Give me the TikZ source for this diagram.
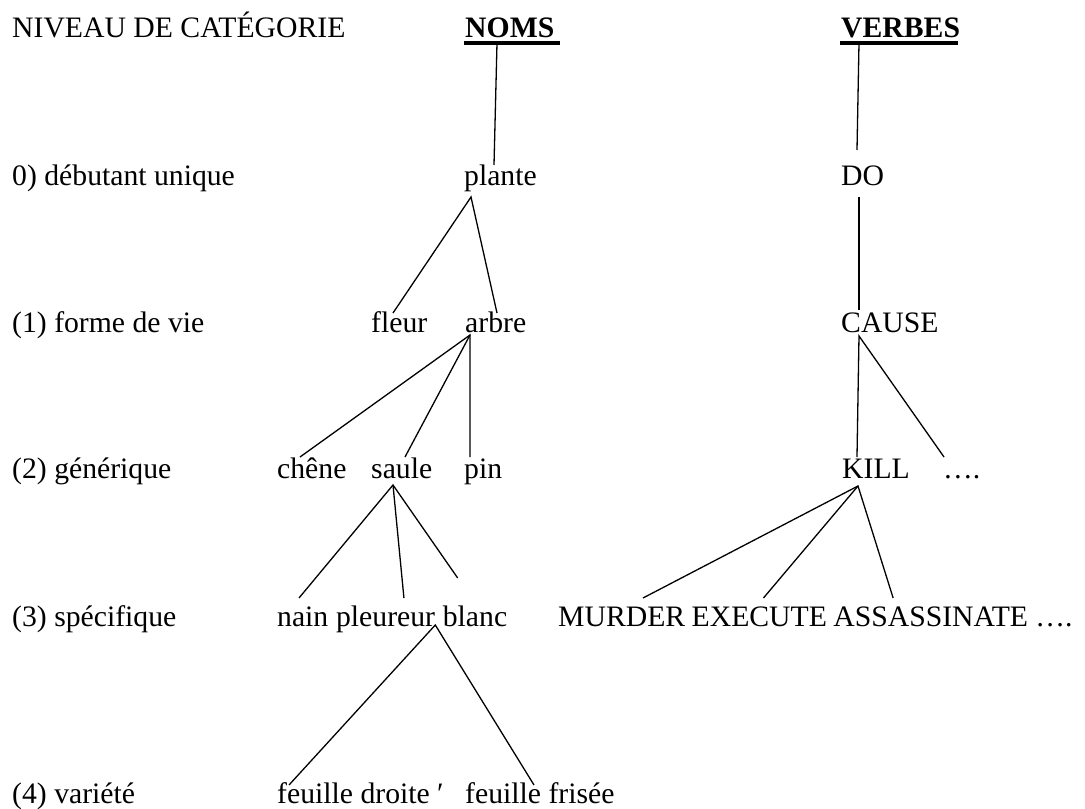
\documentclass[tikz,border=0pt]{standalone}
\usepackage{fontspec}
\setmainfont{Liberation Serif}
\newfontfamily\timesfont{Liberation Serif}
\tikzset{
        lbl/.style={anchor=base west, inner sep=0pt, font=\timesfont\fontsize{29.7}{34}\selectfont},
        head/.style={lbl, font=\timesfont\fontsize{29.7}{34}\selectfont\bfseries},
        branch/.style={line width=1.3pt},
        uline/.style={line width=3.2pt}
          }
\begin{document}
\begin{tikzpicture}[x=1pt, y=-1pt]
            \useasboundingbox (0,0) rectangle (1085,809);
            % levels
            \node[lbl] (niveau) at (12,37) {NIVEAU DE CATÉGORIE};
            \node[lbl] (lev0) at (12,185) {0) débutant unique};
            \node[lbl] (lev1) at (12,332) {(1) forme de vie};
            \node[lbl] (lev2) at (12,478) {(2) générique};
            \node[lbl] (lev3) at (12,626) {(3) spécifique};
            \node[lbl] (lev4) at (12,803) {(4) variété};
            % noms
            \node[head] (noms) at (465,37) {NOMS};
            \node[lbl] (plante) at (464,185) {plante};
            \node[lbl] (fleur) at (371,332) {fleur};
            \node[lbl] (arbre) at (465,332) {arbre};
            \node[lbl] (chene) at (277,478) {chêne};
            \node[lbl] (saule) at (371,478) {saule};
            \node[lbl] (pin) at (464,478) {pin};
            \node[lbl] (nain) at (277,626) {nain};
            \node[lbl] (pleureur) at ([xshift=7.4pt]nain.base east) {pleureur};
            \node[lbl] (blanc) at ([xshift=7.4pt]pleureur.base east) {blanc};
            \node[lbl] (droite) at (277,803) {feuille droite ′};
            \node[lbl] (frisee) at (465,803) {feuille frisée};
            % verbes
            \node[head] (verbes) at (841,37) {VERBES};
            \node[lbl] (do) at (841,185) {DO};
            \node[lbl] (cause) at (841,332) {CAUSE};
            \node[lbl] (kill) at (842,478) {KILL};
            \node[lbl] (etc) at (943,478) {….};
            \node[lbl] (murder) at (558,626) {MURDER};
            \node[lbl] (execute) at ([xshift=6pt]murder.base east) {EXECUTE};
            \node[lbl] (assassinate) at ([xshift=6pt]execute.base east) {ASSASSINATE};
            \node[lbl] (etc2) at ([xshift=7pt]assassinate.base east) {….};
            % underlines
            \draw[uline] ([shift={(-1,6)}]noms.base west) -- ++(96,0);
            \draw[uline] ([shift={(-1,6)}]verbes.base west) -- ++(118,0);
            % branches noms
            \draw[branch] ([shift={(32,6)}]noms.base west) -- ([shift={(30,-20)}]plante.base west);
            \draw[branch] ([shift={(22,-19)}]fleur.base west) -- ([shift={(7,12)}]plante.base west) -- ([shift={(32,-19)}]arbre.base west);
            \draw[branch] ([shift={(23,-21)}]chene.base west) -- ([shift={(5,3)}]arbre.base west) -- ([shift={(6,-21)}]pin.base west);
            \draw[branch] ([shift={(5,3)}]arbre.base west) -- ([shift={(34,-21)}]saule.base west);
            \draw[branch] ([shift={(22,-28)}]nain.base west) -- ([shift={(22,7)}]saule.base west) -- ([shift={(15,-48)}]blanc.base west);
            \draw[branch] ([shift={(22,7)}]saule.base west) -- ([shift={(68,-28)}]pleureur.base west);
            \draw[branch] ([shift={(12,-18)}]droite.base west) -- ([shift={(0,-1)}]pleureur.base east) -- ([shift={(69,-18)}]frisee.base west);
            % branches verbes
            \draw[branch] ([shift={(18,6)}]verbes.base west) -- ([shift={(16,-35)}]do.base west);
            \draw[branch] ([shift={(18,12)}]do.base west) -- ([shift={(18,-22)}]cause.base west);
            \draw[branch] ([shift={(15,-21)}]kill.base west) -- ([shift={(18,4)}]cause.base west) -- ([shift={(1,-21)}]etc.base west);
            \draw[branch] ([shift={(85,-28)}]murder.base west) -- ([shift={(16,8)}]kill.base west) -- ([shift={(60,-28)}]assassinate.base west);
            \draw[branch] ([shift={(16,8)}]kill.base west) -- ([shift={(72,-28)}]execute.base west);
          \end{tikzpicture}
\end{document}
